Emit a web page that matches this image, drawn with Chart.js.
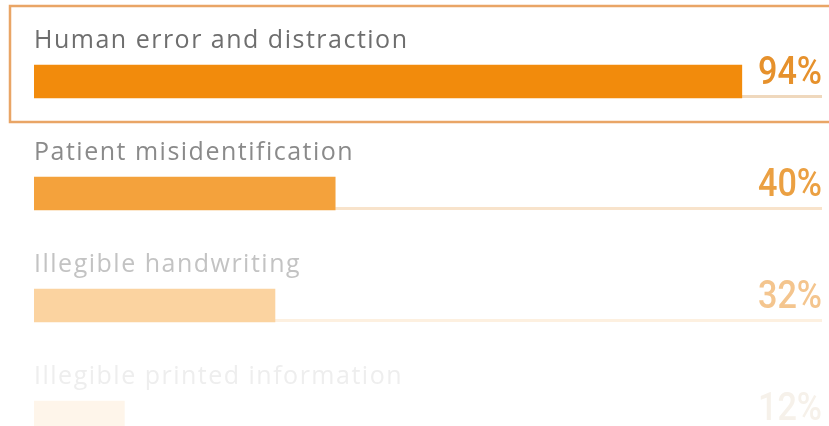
<!DOCTYPE html>
<html lang="en">
<head>
  <meta charset="UTF-8" />
  <title>Causes of errors</title>
  <script src="https://cdn.jsdelivr.net/npm/chart.js"></script>
  <style>
    html, body { margin: 0; padding: 0; background: #fff; overflow: hidden; width: 829px; height: 426px; }
    canvas { display: block; }
  </style>
</head>
<body>
  <canvas id="causesChart" width="829" height="480"></canvas>

  <script>
    const causes = ['Human error and distraction', 'Patient misidentification', 'Illegible handwriting', 'Illegible printed information'];
    const shares = [94, 40, 32, 12];

    // rows fade out from top to bottom
    const barColors = ['#f28b0c', '#f4a23c', '#fbd3a0', '#fef5ea'];
    const trackColors = ['#efd8bd', '#f8e3cb', '#fdf0e0', '#fefaf5'];
    const labelColors = ['#6e6e6e', '#8a8a8a', '#c3c3c3', '#eeeeee'];
    const pctColors = ['#e6912c', '#eba042', '#f4c58e', '#f6f1ea'];

    const rowDecor = {
      id: 'rowDecor',
      beforeDatasetsDraw(chart) {
        const ctx = chart.ctx;
        const meta = chart.getDatasetMeta(0);
        ctx.save();
        meta.data.forEach((bar, i) => {
          const bottom = bar.y + bar.height / 2;
          ctx.fillStyle = trackColors[i];
          ctx.fillRect(bar.x, bottom - 3, 822 - bar.x, 3);
        });
        // highlight box round the first row
        const first = meta.data[0];
        const top = first.y - first.height / 2;
        ctx.strokeStyle = '#e9a566';
        ctx.lineWidth = 2.5;
        ctx.strokeRect(10, top - 59, 840, 116);
        ctx.restore();
      },
      afterDatasetsDraw(chart) {
        const ctx = chart.ctx;
        const meta = chart.getDatasetMeta(0);
        meta.data.forEach((bar, i) => {
          const top = bar.y - bar.height / 2;
          const bottom = bar.y + bar.height / 2;
          ctx.save();
          ctx.textBaseline = 'alphabetic';
          ctx.font = '25px "Open Sans", sans-serif';
          ctx.letterSpacing = '1.5px';
          ctx.fillStyle = labelColors[i];
          ctx.textAlign = 'left';
          ctx.fillText(causes[i], chart.chartArea.left, top - 17);
          ctx.restore();

          // narrow figures: squeeze a regular face horizontally
          ctx.save();
          ctx.font = '500 38px Roboto, sans-serif';
          ctx.fillStyle = pctColors[i];
          ctx.textAlign = 'right';
          ctx.textBaseline = 'alphabetic';
          ctx.translate(822, bottom - 14);
          ctx.scale(0.9, 1);
          ctx.fillText(shares[i] + '%', 0, 0);
          ctx.restore();
        });
      }
    };

    new Chart(document.getElementById('causesChart'), {
      type: 'bar',
      data: {
        labels: causes,
        datasets: [{
          data: shares,
          backgroundColor: barColors,
          borderWidth: 0,
          barThickness: 33
        }]
      },
      options: {
        indexAxis: 'y',
        responsive: false,
        animation: false,
        layout: { padding: { left: 34, right: 42, top: 25.5, bottom: 6.5 } },
        plugins: {
          legend: { display: false },
          tooltip: { enabled: false }
        },
        scales: {
          x: { min: 0, max: 100, display: false, grid: { display: false } },
          y: { display: false, grid: { display: false } }
        }
      },
      plugins: [rowDecor]
    });
  </script>
</body>
</html>
